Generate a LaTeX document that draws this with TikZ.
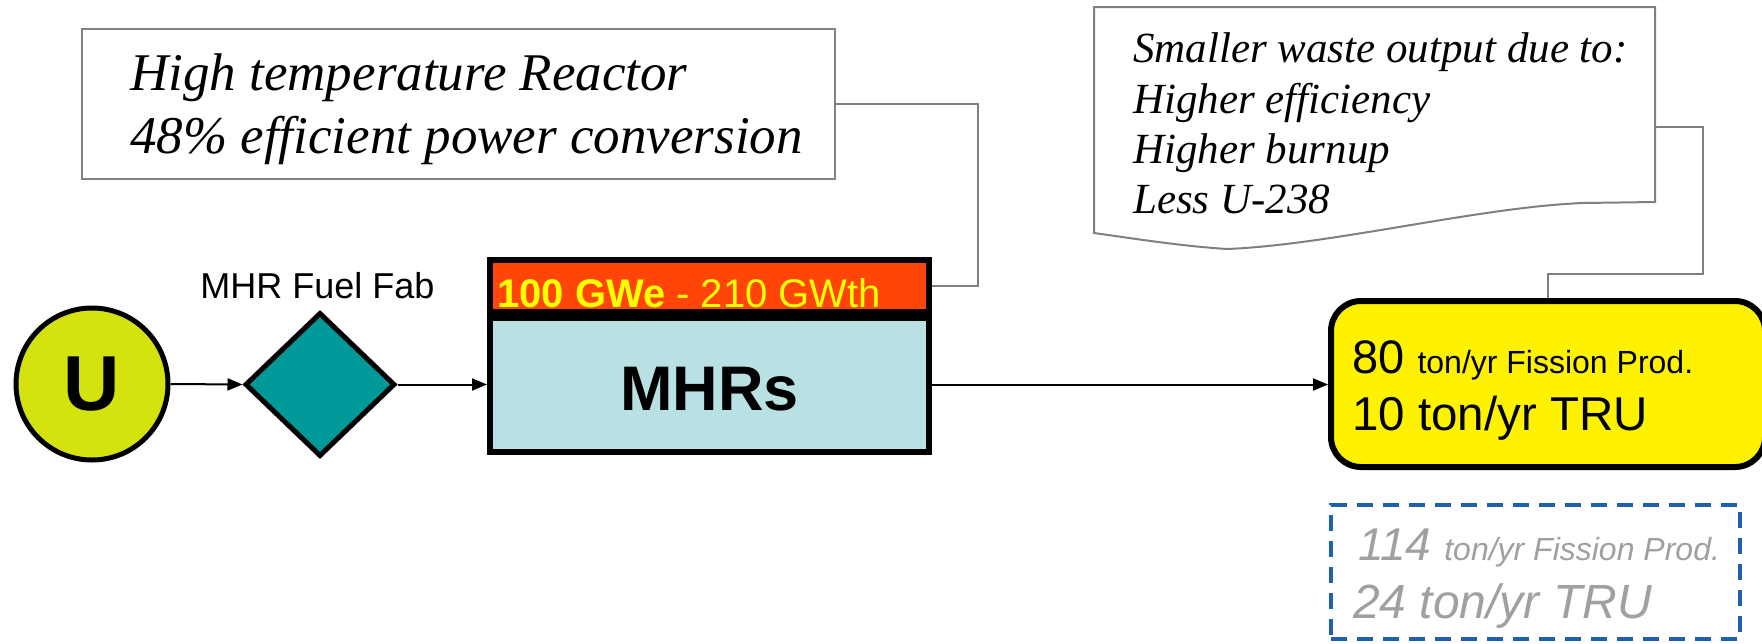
\documentclass[tikz,border=0pt]{standalone}
\usepackage{fontspec}
\setmainfont{Liberation Sans}
\newfontfamily\tnr{Liberation Serif}
\usetikzlibrary{shapes.geometric,arrows.meta}
\definecolor{ugreen}{RGB}{212,226,14}
\definecolor{teal}{RGB}{0,153,153}
\definecolor{barred}{RGB}{255,69,8}
\definecolor{mhrblue}{RGB}{185,224,227}
\definecolor{wasteyellow}{RGB}{255,242,0}
\definecolor{baryellow}{RGB}{255,255,0}
\definecolor{oldgray}{RGB}{160,160,160}
\definecolor{dashblue}{RGB}{31,95,175}
\definecolor{callgray}{RGB}{128,128,128}
\tikzset{
  ucirc/.style={circle, draw=black, line width=5pt, fill=ugreen, minimum size=152pt, inner sep=0pt},
  fabdia/.style={diamond, draw=black, line width=5pt, fill=teal, minimum width=150pt, minimum height=144pt, inner sep=0pt},
  barbox/.style={rectangle, draw=black, line width=6pt, fill=barred, minimum width=439pt, minimum height=52pt, inner sep=0pt},
  mhrbox/.style={rectangle, draw=black, line width=6pt, fill=mhrblue, minimum width=439pt, minimum height=134pt, inner sep=0pt},
  wastebox/.style={rectangle, rounded corners=30pt, draw=black, line width=6pt, fill=wasteyellow, minimum width=434pt, minimum height=166pt, inner sep=0pt},
  oldbox/.style={rectangle, draw=dashblue, line width=4pt, dash pattern=on 16pt off 10pt, minimum width=409pt, minimum height=134pt, inner sep=0pt},
  callbox/.style={rectangle, draw=callgray, line width=2pt, fill=white, minimum width=753pt, minimum height=150pt, inner sep=0pt},
  callline/.style={draw=callgray, line width=2pt},
  flow/.style={draw=black, line width=2pt, -{Triangle[length=15pt,width=12pt]}},
  txt/.style={anchor=base west, inner sep=0pt},
  calltxt/.style={anchor=base west, inner sep=0pt, font=\tnr\itshape}
}
\begin{document}
\begin{tikzpicture}[x=1pt,y=-1pt]
\useasboundingbox (0,0) rectangle (1762,643);
\clip (0,0) rectangle (1762,643);

% callout 1
\node[callbox] (c1) at (458.5,104) {};
\node[calltxt] (c1a) at (130,90) {\fontsize{53}{53}\selectfont High temperature Reactor};
\node[calltxt] (c1b) at (130,153) {\fontsize{53}{53}\selectfont 48\% efficient power conversion};

% callout 2
\draw[callline, fill=white] (1094,7) -- (1655,7) -- (1655,202) -- (1583,203)
  .. controls (1480,207) and (1330,245) .. (1227,249)
  .. controls (1180,246) and (1130,238) .. (1094,233) -- cycle;
\node[calltxt] (c2a) at (1133,62) {\fontsize{43}{43}\selectfont Smaller waste output due to:};
\node[calltxt] (c2b) at (1133,113) {\fontsize{43}{43}\selectfont Higher efficiency};
\node[calltxt] (c2c) at (1133,163) {\fontsize{43}{43}\selectfont Higher burnup};
\node[calltxt] (c2d) at (1133,213) {\fontsize{43}{43}\selectfont Less U-238};

% main chain
\node[ucirc] (U) at (92,384) {\fontsize{78}{78}\selectfont\bfseries U};
\node[fabdia] (fab) at (320,384.5) {};
\node[txt, anchor=base] (fablbl) at (317.5,298) {\fontsize{36}{36}\selectfont MHR Fuel Fab};

\node[barbox] (bar) at (709.5,286) {};
\node[mhrbox] (mhr) at (709.5,385) {};
\node[txt, text=baryellow] (bartxt) at (497,307) {\fontsize{40}{40}\selectfont\bfseries 100 GWe\mdseries{} - 210 GWth};
\node[txt, anchor=base] (mhrtxt) at (709.5,410) {\fontsize{63}{63}\selectfont\bfseries MHRs};

\node[wastebox] (waste) at (1548,384) {};
\node[txt] (w1) at (1352,373) {\fontsize{47}{47}\selectfont 80 \fontsize{32}{32}\selectfont ton/yr Fission Prod.};
\node[txt] (w2) at (1352,430) {\fontsize{47.5}{47.5}\selectfont 10 ton/yr TRU};

\node[oldbox] (old) at (1535.5,572) {};
\node[txt, text=oldgray, font=\itshape] (o1) at (1358,560) {\fontsize{46}{46}\selectfont 114 \fontsize{32}{32}\selectfont ton/yr Fission Prod.};
\node[txt, text=oldgray, font=\itshape] (o2) at (1353,618) {\fontsize{48}{48}\selectfont 24 ton/yr TRU};

% connectors
\draw[flow] (U.east) -- (fab.west);
\draw[flow] (fab.east) -- (mhr.west |- fab.east);
\draw[flow] (mhr.east |- fab.east) -- (waste.west |- fab.east);

\coordinate (c1k) at (978,0);
\draw[callline] (c1.east) -- (c1.east -| c1k) -- (c1k |- bar.east) -- (bar.east);

\coordinate (c2out) at (1655,127);
\coordinate (c2k1) at (1703,127);
\coordinate (c2k2) at (1703,274);
\coordinate (c2k3) at (1548,274);
\draw[callline] (c2out) -- (c2k1) -- (c2k2) -- (c2k3) -- (waste.north);
\end{tikzpicture}
\end{document}
